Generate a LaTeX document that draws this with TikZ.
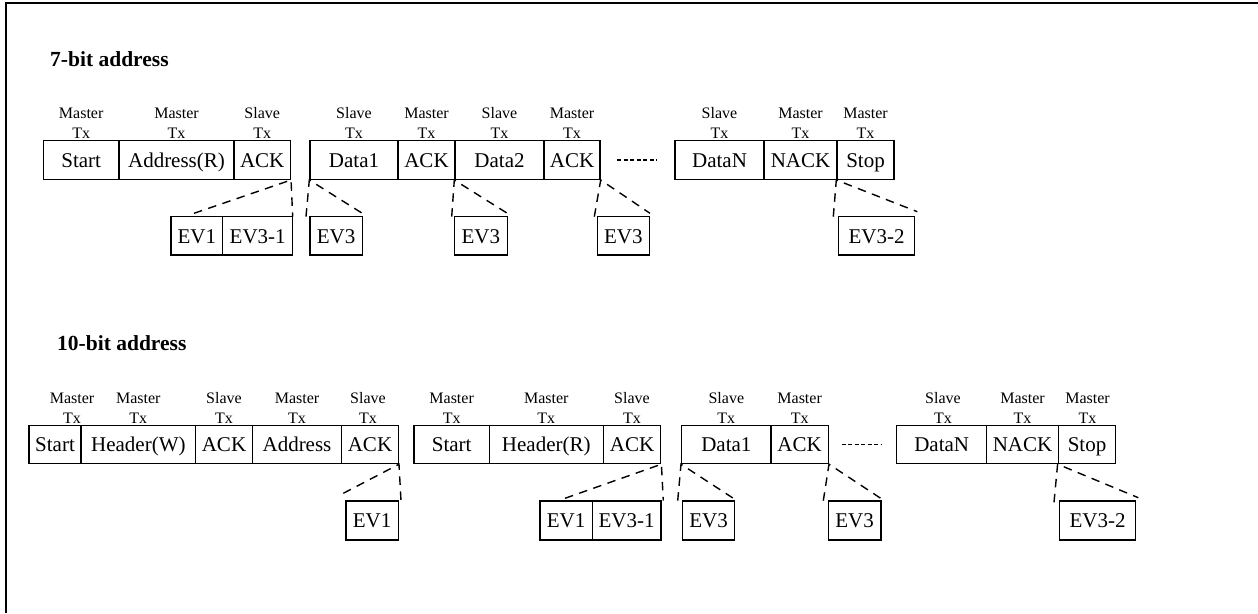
\documentclass[tikz,border=0pt]{standalone}
\usepackage{fontspec}
\setmainfont{Liberation Serif}
\tikzset{
 box/.style={draw, line width=1.4pt, inner sep=0pt, text height=14.5pt, text depth=0pt, font=\fontsize{21}{21}\selectfont},
 toprow/.style={box, minimum height=38.6pt},
 botrow/.style={box, minimum height=38pt},
 evtop/.style={box, minimum height=38.3pt},
 evbot/.style={box, minimum height=39pt},
 lbl/.style={inner sep=0pt, align=center, anchor=south, font=\fontsize{16}{19.5}\selectfont},
 ttl/.style={inner sep=0pt, anchor=west, font=\fontsize{21.5}{21.5}\selectfont\bfseries},
 zoomline/.style={line width=1.4pt, dash pattern=on 8.5pt off 6.5pt},
 dotline/.style={line width=1.4pt, dash pattern=on 4pt off 2.5pt},
 frame/.style={line width=2pt}
}
\begin{document}
\begin{tikzpicture}[x=1pt,y=-1pt]
\useasboundingbox (0,0) rectangle (1258,613);
% frame
\coordinate (fa) at (1258,3);
\coordinate (fb) at (6,3);
\coordinate (fc) at (6,613);
\draw[frame] (fa) -- (fb) -- (fc);

% titles
\node[ttl] (t7) at (50,58.7) {7-bit address};
\node[ttl] (t10) at (57,343) {10-bit address};

% ---------- 7-bit row ----------
\node[toprow, minimum width=75.7pt] (s1) at (81.2,160) {Start};
\node[toprow, minimum width=115pt] (a1) at (176.5,160) {Address(R)};
\node[toprow, minimum width=56.3pt] (k1) at (262.2,160) {ACK};
\node[toprow, minimum width=88pt] (d1) at (354,160) {Data1};
\node[toprow, minimum width=57pt] (k2) at (426.5,160) {ACK};
\node[toprow, minimum width=89pt] (d2) at (499.5,160) {Data2};
\node[toprow, minimum width=56pt] (k3) at (572,160) {ACK};
\node[toprow, minimum width=89pt] (dn) at (719.5,160) {DataN};
\node[toprow, minimum width=73pt] (nk) at (800.5,160) {NACK};
\node[toprow, minimum width=57pt] (sp) at (865.5,160) {Stop};

\node[lbl] (ls1) at (81.2,138.3) {Master\\Tx};
\node[lbl] (la1) at (176.5,138.3) {Master\\Tx};
\node[lbl] (lk1) at (262.2,138.3) {Slave\\Tx};
\node[lbl] (ld1) at (354,138.3) {Slave\\Tx};
\node[lbl] (lk2) at (426.5,138.3) {Master\\Tx};
\node[lbl] (ld2) at (499.5,138.3) {Slave\\Tx};
\node[lbl] (lk3) at (572,138.3) {Master\\Tx};
\node[lbl] (ldn) at (719.5,138.3) {Slave\\Tx};
\node[lbl] (lnk) at (800.5,138.3) {Master\\Tx};
\node[lbl] (lsp) at (865.5,138.3) {Master\\Tx};

\coordinate (dota) at (617,160);
\coordinate (dotb) at (657,160);
\draw[dotline] (dota) -- (dotb);

\node[evtop, minimum width=51.7pt] (e1) at (196.85,235.85) {EV1};
\node[evtop, minimum width=70pt] (e2) at (257.7,235.85) {EV3-1};
\node[evtop, minimum width=52.3pt] (e3) at (336.15,235.85) {EV3};
\node[evtop, minimum width=53pt] (e4) at (480.8,235.85) {EV3};
\node[evtop, minimum width=52pt] (e5) at (623.3,235.85) {EV3};
\node[evtop, minimum width=75.6pt] (e6) at (876.5,235.85) {EV3-2};

\coordinate (z1a) at (194,213.3);   \coordinate (z1b) at (292.7,216.7);
\coordinate (z2a) at (306,216.7);   \coordinate (z2b) at (362.3,213.3);
\coordinate (z3a) at (451.7,216.7); \coordinate (z3b) at (507.3,213.3);
\coordinate (z4a) at (594.3,216.7); \coordinate (z4b) at (650,213.3);
\coordinate (z5a) at (833.3,216.7); \coordinate (z5b) at (917.3,211.7);
\draw[zoomline] (z1a) -- (k1.south east) -- (z1b);
\draw[zoomline] (z2a) -- (d1.south west) -- (z2b);
\draw[zoomline] (z3a) -- (d2.south west) -- (z3b);
\draw[zoomline] (z4a) -- (k3.south east) -- (z4b);
\draw[zoomline] (z5a) -- (sp.south west) -- (z5b);

% ---------- 10-bit row ----------
\node[botrow, minimum width=52pt] (b1) at (55,444.5) {Start};
\node[botrow, minimum width=114.7pt] (b2) at (138.35,444.5) {Header(W)};
\node[botrow, minimum width=56.6pt] (b3) at (224,444.5) {ACK};
\node[botrow, minimum width=89.4pt] (b4) at (297,444.5) {Address};
\node[botrow, minimum width=56.6pt] (b5) at (370,444.5) {ACK};
\node[botrow, minimum width=75.3pt] (b6) at (451.65,444.5) {Start};
\node[botrow, minimum width=114pt] (b7) at (546.3,444.5) {Header(R)};
\node[botrow, minimum width=57.4pt] (b8) at (632,444.5) {ACK};
\node[botrow, minimum width=89.3pt] (b9) at (726.35,444.5) {Data1};
\node[botrow, minimum width=57.3pt] (b10) at (799.65,444.5) {ACK};
\node[botrow, minimum width=90pt] (b11) at (941.7,444.5) {DataN};
\node[botrow, minimum width=71.6pt] (b12) at (1022.5,444.5) {NACK};
\node[botrow, minimum width=57.4pt] (b13) at (1087,444.5) {Stop};

\node[lbl] (lb1) at (72,423.5) {Master\\Tx};
\node[lbl] (lb2) at (138.35,423.5) {Master\\Tx};
\node[lbl] (lb3) at (224,423.5) {Slave\\Tx};
\node[lbl] (lb4) at (297,423.5) {Master\\Tx};
\node[lbl] (lb5) at (368,423.5) {Slave\\Tx};
\node[lbl] (lb6) at (451.65,423.5) {Master\\Tx};
\node[lbl] (lb7) at (546.3,423.5) {Master\\Tx};
\node[lbl] (lb8) at (632,423.5) {Slave\\Tx};
\node[lbl] (lb9) at (726.35,423.5) {Slave\\Tx};
\node[lbl] (lb10) at (799.65,423.5) {Master\\Tx};
\node[lbl] (lb11) at (943,423.5) {Slave\\Tx};
\node[lbl] (lb12) at (1022.5,423.5) {Master\\Tx};
\node[lbl] (lb13) at (1087.5,423.5) {Master\\Tx};

\coordinate (dotc) at (841.7,444.3);
\coordinate (dotd) at (881.7,444.3);
\draw[dotline] (dotc) -- (dotd);

\node[evbot, minimum width=52.3pt] (f1) at (372.15,520.5) {EV1};
\node[evbot, minimum width=52.3pt] (f2) at (566.15,520.5) {EV1};
\node[evbot, minimum width=68.7pt] (f3) at (626.65,520.5) {EV3-1};
\node[evbot, minimum width=51.6pt] (f4) at (708.5,520.5) {EV3};
\node[evbot, minimum width=52.7pt] (f5) at (854.65,520.5) {EV3};
\node[evbot, minimum width=76.4pt] (f6) at (1097.5,520.5) {EV3-2};

\coordinate (y1a) at (343.3,493.3);  \coordinate (y1b) at (401,501);
\coordinate (y2a) at (565,498.3);    \coordinate (y2b) at (663.3,500.7);
\coordinate (y3a) at (677.7,500.7);  \coordinate (y3b) at (733.3,498.3);
\coordinate (y4a) at (823.3,500.7);  \coordinate (y4b) at (880.7,498.3);
\coordinate (y5a) at (1054,502.3);   \coordinate (y5b) at (1138.3,497.7);
\draw[zoomline] (y1a) -- (b5.south east) -- (y1b);
\draw[zoomline] (y2a) -- (b8.south east) -- (y2b);
\draw[zoomline] (y3a) -- (b9.south west) -- (y3b);
\draw[zoomline] (y4a) -- (b10.south east) -- (y4b);
\draw[zoomline] (y5a) -- (b13.south west) -- (y5b);
\end{tikzpicture}
\end{document}
